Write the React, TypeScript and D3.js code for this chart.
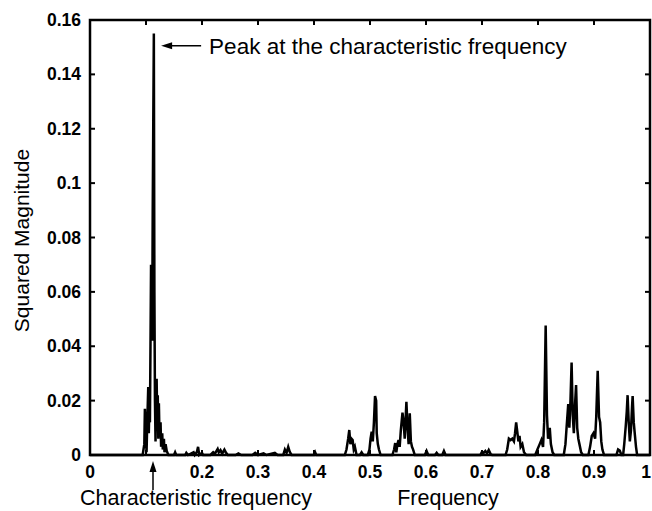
import React, { useEffect, useRef } from "react";
import * as d3 from "d3";

// spectrum: [frequency, squared magnitude]
const mainPeak: [number, number][] = [
  [0, 0], [0.094, 0], [0.097, 0.004], [0.098, 0.017], [0.1, 0.006], [0.101, 0.001],
  [0.102, 0.01], [0.104, 0.025], [0.105, 0.008], [0.106, 0.018], [0.107, 0.012],
  [0.108, 0.04], [0.109, 0.07], [0.11, 0.05], [0.111, 0.042], [0.112, 0.09],
  [0.113, 0.123], [0.114, 0.155], [0.115, 0.06], [0.116, 0.02], [0.117, 0.005],
  [0.118, 0.018], [0.119, 0.028], [0.12, 0.012], [0.121, 0.022], [0.122, 0.006],
  [0.123, 0.019], [0.124, 0.008], [0.126, 0.012], [0.127, 0.003], [0.129, 0.008],
  [0.13, 0.002], [0.132, 0.006], [0.133, 0.001], [0.135, 0.004], [0.137, 0.0015], [0.14, 0],
];

const lowNoise: [number, number][] = [
  [0.15, 0], [0.152, 0.001], [0.154, 0], [0.17, 0], [0.172, 0.0008], [0.175, 0],
  [0.185, 0.001], [0.187, 0], [0.191, 0.0012], [0.193, 0.003], [0.195, 0], [0.2, 0.0008],
  [0.202, 0], [0.215, 0], [0.22, 0.001], [0.223, 0.0005], [0.228, 0.0022], [0.23, 0.001],
  [0.233, 0.0018], [0.236, 0.0005], [0.24, 0.002], [0.243, 0.0008], [0.246, 0],
  [0.26, 0], [0.265, 0.0006], [0.27, 0], [0.29, 0], [0.295, 0.0008], [0.3, 0],
  [0.31, 0.0006], [0.315, 0], [0.33, 0.0008], [0.335, 0], [0.345, 0], [0.348, 0.002],
  [0.351, 0.0008], [0.354, 0.003], [0.357, 0.001], [0.36, 0], [0.4, 0], [0.402, 0.001],
  [0.404, 0], [0.45, 0],
];

const midPeaks: [number, number][] = [
  [0.455, 0], [0.458, 0.002], [0.461, 0.006], [0.463, 0.0092], [0.465, 0.004], [0.467, 0.006],
  [0.469, 0.0055], [0.471, 0.002], [0.473, 0.003], [0.476, 0], [0.482, 0], [0.485, 0.001],
  [0.488, 0], [0.496, 0], [0.499, 0.002], [0.501, 0.006], [0.503, 0.0086], [0.505, 0.005],
  [0.507, 0.012], [0.509, 0.0217], [0.511, 0.02], [0.512, 0.008], [0.514, 0.004],
  [0.516, 0.002], [0.519, 0], [0.54, 0], [0.543, 0.002], [0.545, 0.0044], [0.547, 0.001],
  [0.549, 0.004], [0.551, 0.0055], [0.553, 0.003], [0.555, 0.009], [0.558, 0.0156],
  [0.56, 0.012], [0.562, 0.006], [0.565, 0.0196], [0.567, 0.01], [0.569, 0.004],
  [0.571, 0.0153], [0.573, 0.005], [0.575, 0.003], [0.577, 0.002], [0.58, 0],
  [0.598, 0], [0.601, 0.0015], [0.604, 0], [0.616, 0], [0.619, 0.0008], [0.622, 0],
  [0.629, 0], [0.632, 0.0015], [0.635, 0], [0.697, 0], [0.7, 0.0012], [0.703, 0.0008],
  [0.706, 0.0015], [0.709, 0.0006], [0.712, 0.0018], [0.715, 0.0005], [0.718, 0],
];

const highPeaks: [number, number][] = [
  [0.742, 0], [0.745, 0.002], [0.748, 0.006], [0.751, 0.0055], [0.754, 0.006], [0.757, 0.005],
  [0.759, 0.008], [0.761, 0.012], [0.763, 0.0086], [0.765, 0.005], [0.767, 0.007],
  [0.769, 0.003], [0.772, 0.004], [0.775, 0.001], [0.779, 0],
  [0.795, 0], [0.799, 0.002], [0.803, 0.004], [0.806, 0.0055], [0.809, 0.003], [0.811, 0.012],
  [0.8137, 0.0476], [0.816, 0.0147], [0.818, 0.006], [0.821, 0.01], [0.823, 0.004],
  [0.826, 0.001], [0.829, 0],
  [0.846, 0], [0.849, 0.004], [0.851, 0.01], [0.854, 0.0187], [0.856, 0.01], [0.858, 0.02],
  [0.86, 0.034], [0.862, 0.0147], [0.864, 0.008], [0.866, 0.018], [0.868, 0.0257],
  [0.87, 0.01], [0.872, 0.006], [0.874, 0.004], [0.877, 0.001], [0.88, 0],
  [0.89, 0], [0.893, 0.003], [0.896, 0.007], [0.899, 0.008], [0.902, 0.006], [0.904, 0.014],
  [0.9066, 0.031], [0.909, 0.014], [0.911, 0.012], [0.913, 0.005], [0.915, 0.002], [0.918, 0],
  [0.94, 0], [0.943, 0.002], [0.946, 0.0016], [0.949, 0],
  [0.952, 0], [0.954, 0.004], [0.9566, 0.0104], [0.9585, 0.016], [0.96, 0.022], [0.962, 0.012],
  [0.964, 0.005], [0.966, 0.009], [0.968, 0.018], [0.969, 0.0217], [0.971, 0.012],
  [0.973, 0.0074], [0.975, 0.003], [0.977, 0], [1.0, 0],
];

const xTicks = [0, 0.1, 0.2, 0.3, 0.4, 0.5, 0.6, 0.7, 0.8, 0.9, 1];
const xTickLabels = ["0", "", "0.2", "0.3", "0.4", "0.5", "0.6", "0.7", "0.8", "0.9", "1"];
const yTicks = [0, 0.02, 0.04, 0.06, 0.08, 0.1, 0.12, 0.14, 0.16];
const yTickLabels = ["0", "0.02", "0.04", "0.06", "0.08", "0.1", "0.12", "0.14", "0.16"];
const charFreq = 0.1125;
const peakLabelLevel = 0.1505;

function Spectrum() {
  const ref = useRef<SVGSVGElement>(null);

  useEffect(() => {
    const svg = d3.select(ref.current);
    svg.selectAll("*").remove();

    const left = 90, right = 650, top = 20, bottom = 455;
    const x = d3.scaleLinear().domain([0, 1]).range([left, right]);
    const y = d3.scaleLinear().domain([0, 0.16]).range([bottom, top]);
    const font = "'Liberation Sans', Arial, sans-serif";

    const data = [...mainPeak, ...lowNoise, ...midPeaks, ...highPeaks];
    const line = d3.line<[number, number]>().x(d => x(d[0])).y(d => y(d[1]));

    svg.append("path")
      .attr("d", line(data))
      .attr("fill", "none")
      .attr("stroke", "#000")
      .attr("stroke-width", 2.5)
      .attr("stroke-linejoin", "miter");

    // frame
    svg.append("rect")
      .attr("x", left).attr("y", top)
      .attr("width", right - left).attr("height", bottom - top)
      .attr("fill", "none").attr("stroke", "#000").attr("stroke-width", 2.5);

    // inward ticks on all four sides
    const tl = 5;
    xTicks.forEach(t => {
      svg.append("line").attr("x1", x(t)).attr("x2", x(t)).attr("y1", bottom).attr("y2", bottom - tl)
        .attr("stroke", "#000").attr("stroke-width", 2);
      svg.append("line").attr("x1", x(t)).attr("x2", x(t)).attr("y1", top).attr("y2", top + tl)
        .attr("stroke", "#000").attr("stroke-width", 2);
    });
    yTicks.forEach(t => {
      svg.append("line").attr("x1", left).attr("x2", left + tl).attr("y1", y(t)).attr("y2", y(t))
        .attr("stroke", "#000").attr("stroke-width", 2);
      svg.append("line").attr("x1", right).attr("x2", right - tl).attr("y1", y(t)).attr("y2", y(t))
        .attr("stroke", "#000").attr("stroke-width", 2);
    });

    svg.selectAll(".xl").data(xTicks).join("text")
      .attr("x", d => (d === 1 ? 651 : x(d))).attr("y", 478)
      .attr("text-anchor", d => (d === 1 ? "end" : "middle"))
      .attr("font-family", font).attr("font-weight", "bold").attr("font-size", 17.5)
      .text((d, i) => xTickLabels[i]);

    svg.selectAll(".yl").data(yTicks).join("text")
      .attr("x", 81).attr("y", d => y(d) + 6)
      .attr("text-anchor", "end")
      .attr("font-family", font).attr("font-weight", "bold").attr("font-size", 17.5)
      .text((d, i) => yTickLabels[i]);

    // axis titles
    svg.append("text")
      .attr("transform", `translate(29, ${(top + bottom) / 2 + 3}) rotate(-90)`)
      .attr("text-anchor", "middle")
      .attr("font-family", font).attr("font-size", 21)
      .text("Squared Magnitude");

    svg.append("text")
      .attr("x", 196).attr("y", 505)
      .attr("text-anchor", "middle")
      .attr("font-family", font).attr("font-size", 21.5)
      .text("Characteristic frequency");

    svg.append("text")
      .attr("x", 448).attr("y", 505)
      .attr("text-anchor", "middle")
      .attr("font-family", font).attr("font-size", 21.5)
      .text("Frequency");

    // arrow under the axis pointing at the characteristic frequency
    const ax = x(charFreq);
    svg.append("line").attr("x1", ax).attr("x2", ax).attr("y1", 466).attr("y2", 490)
      .attr("stroke", "#000").attr("stroke-width", 1.5);
    svg.append("path")
      .attr("d", `M${ax},461 L${ax - 3.5},472 L${ax + 3.5},472 Z`)
      .attr("fill", "#000");

    // arrow pointing at the main peak
    const py = y(peakLabelLevel);
    const px = x(0.127);
    svg.append("line").attr("x1", px + 6).attr("x2", px + 40).attr("y1", py).attr("y2", py)
      .attr("stroke", "#000").attr("stroke-width", 1.5);
    svg.append("path")
      .attr("d", `M${px},${py} L${px + 11},${py - 3.5} L${px + 11},${py + 3.5} Z`)
      .attr("fill", "#000");
    svg.append("text")
      .attr("x", px + 48).attr("y", py + 8)
      .attr("font-family", font).attr("font-size", 22.5)
      .text("Peak at the characteristic frequency");
  }, []);

  return <svg ref={ref} width={652} height={511} style={{ display: "block" }} />;
}

export default function App() {
  return (
    <div style={{ position: "absolute", left: 0, top: 0, background: "#fff" }}>
      <Spectrum />
    </div>
  );
}
